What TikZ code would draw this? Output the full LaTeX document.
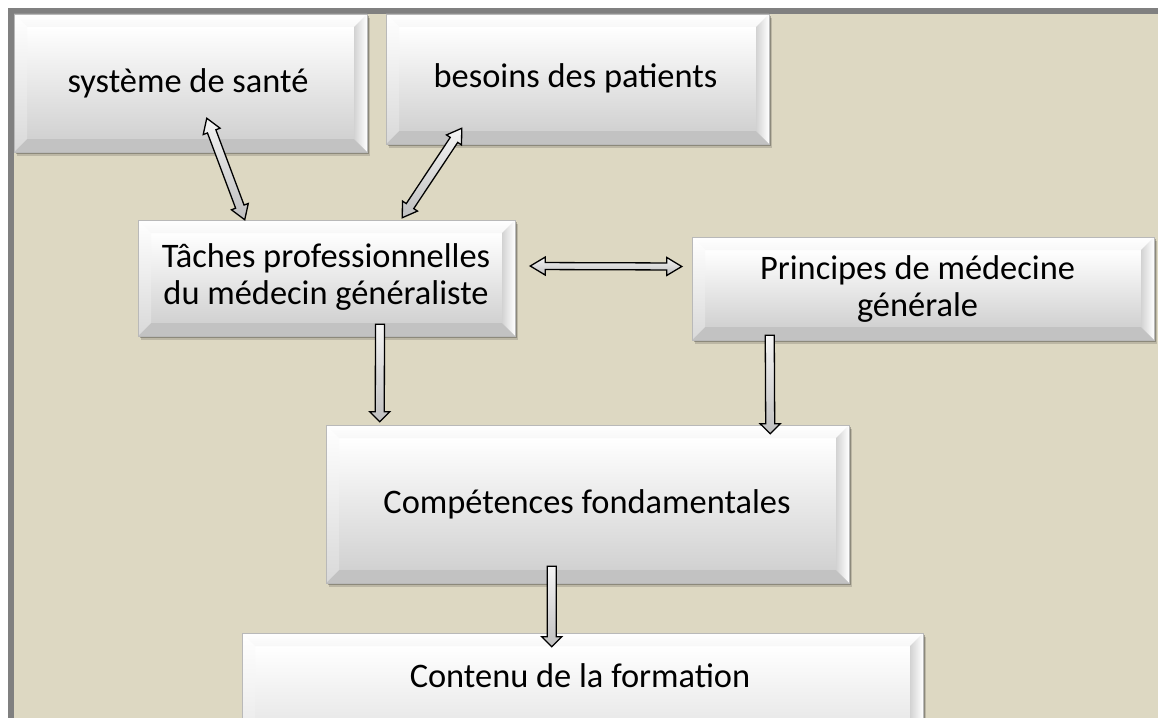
\documentclass[tikz,border=0pt]{standalone}
\usepackage{fontspec}
\setmainfont{Carlito}
\usetikzlibrary{calc,shadows}
\definecolor{bgbeige}{HTML}{DDD8C2}
\definecolor{framegray}{HTML}{808080}

\newcommand\singlearrow[5]{%
  \coordinate (#2hb) at ($(#2)!#5!(#1)$);
  \path[blockarrow] ($(#1)!#3!90:(#2)$) -- ($(#2hb)!#3!90:(#2)$) -- ($(#2hb)!#4!90:(#2)$) -- (#2)
     -- ($(#2hb)!#4!-90:(#2)$) -- ($(#2hb)!#3!-90:(#2)$) -- ($(#1)!#3!-90:(#2)$) -- cycle;}
\newcommand\twowayarrow[5]{%
  \coordinate (#1hb) at ($(#1)!#5!(#2)$);
  \coordinate (#2hb) at ($(#2)!#5!(#1)$);
  \path[blockarrow] (#1) -- ($(#1hb)!#4!90:(#2)$) -- ($(#1hb)!#3!90:(#2)$) -- ($(#2hb)!#3!90:(#2)$)
     -- ($(#2hb)!#4!90:(#2)$) -- (#2) -- ($(#2hb)!#4!-90:(#2)$) -- ($(#2hb)!#3!-90:(#2)$)
     -- ($(#1hb)!#3!-90:(#2)$) -- ($(#1hb)!#4!-90:(#2)$) -- cycle;}

\begin{document}
\begin{tikzpicture}[x=1pt,y=-1pt,
  bevelbox/.style={rectangle, inner sep=0pt, fill=white, draw=gray!55, line width=0.5pt,
    drop shadow={shadow xshift=3pt, shadow yshift=-4pt, opacity=0.15, fill=black},
    drop shadow={shadow xshift=1.5pt, shadow yshift=-2pt, opacity=0.25, fill=black},
    path picture={
      \path (path picture bounding box.south west) coordinate (pbsw)
            (path picture bounding box.north east) coordinate (pbne)
            (path picture bounding box.north west) coordinate (pbnw)
            (path picture bounding box.south east) coordinate (pbse);
      \shade[top color=white, bottom color=gray!36] ($(pbsw)+(13pt,13pt)$) rectangle ($(pbne)+(-13pt,-13pt)$);
      \shade[top color=white, bottom color=gray!6] (pbnw) -- (pbne) -- ($(pbne)+(-13pt,-13pt)$) -- ($(pbnw)+(13pt,-13pt)$) -- cycle;
      \shade[top color=white, bottom color=gray!30] (pbnw) -- ($(pbnw)+(13pt,-13pt)$) -- ($(pbsw)+(13pt,13pt)$) -- (pbsw) -- cycle;
      \shade[left color=gray!35, right color=white] (pbne) -- (pbse) -- ($(pbse)+(-13pt,13pt)$) -- ($(pbne)+(-13pt,-13pt)$) -- cycle;
      \fill[gray!48] (pbsw) -- (pbse) -- ($(pbse)+(-13pt,13pt)$) -- ($(pbsw)+(13pt,13pt)$) -- cycle;
    }},
  boxtext/.style={font=\fontsize{34.4}{37.5}\selectfont, align=center, inner sep=0pt, text=black},
  blockarrow/.style={draw=black, line width=1.3pt, line join=miter, top color=gray!8, bottom color=gray!50}]
\useasboundingbox (0,0) rectangle (1158,717);
\clip (0,0) rectangle (1158,717);
\fill[white] (-5,-5) rectangle (1170,730);
\fill[framegray] (8,8) rectangle (1170,730);
\fill[bgbeige] (14,14) rectangle (1170,730);

% boxes
\node[bevelbox, minimum width=353pt, minimum height=138pt] (sys) at (190.5,83) {};
\node[bevelbox, minimum width=383pt, minimum height=130pt] (bes) at (577.5,79) {};
\node[bevelbox, minimum width=377pt, minimum height=116pt] (tac) at (326.5,278) {};
\node[bevelbox, minimum width=462pt, minimum height=103pt] (pri) at (923,288.5) {};
\node[bevelbox, minimum width=523pt, minimum height=158pt] (com) at (587.5,504) {};
\node[bevelbox, minimum width=681pt, minimum height=180pt] (con) at (582.5,723) {};

% texts
\node[boxtext, anchor=base] (systxt) at (188,92) {système de santé};
\node[boxtext, anchor=base] (bestxt) at (575.5,87) {besoins des patients};
\node[boxtext] (tactxt) at (326,277) {Tâches professionnelles\\du médecin généraliste};
\node[boxtext] (pritxt) at (917.5,289) {Principes de médecine\\générale};
\node[boxtext, anchor=base] (comtxt) at (587,513) {Compétences fondamentales};
\node[boxtext, anchor=base] (contxt) at (580,687) {Contenu de la formation};

% connector end points
\coordinate (a1s) at ($(sys.south west)+(193,-34)$);
\coordinate (a1e) at ($(tac.north west)+(107,0)$);
\coordinate (a2s) at ($(bes.south west)+(76,-16)$);
\coordinate (a2e) at ($(tac.north east)+(-113,-2)$);
\coordinate (a3s) at ($(tac.east)+(15,-12)$);
\coordinate (a3e) at ($(pri.west)+(-10,-22)$);
\coordinate (a4s) at ($(tac.south)+(53.5,-12)$);
\coordinate (a4e) at ($(com.north west)+(54,-3)$);
\coordinate (a5s) at ($(pri.south west)+(78,-5)$);
\coordinate (a5e) at ($(com.north east)+(-79,9)$);
\coordinate (a6s) at ($(com.south west)+(226,-17)$);
\coordinate (a6e) at ($(con.north west)+(310,14)$);

% connectors
\twowayarrow{a1s}{a1e}{4.5pt}{9pt}{14pt}
\twowayarrow{a2s}{a2e}{4.5pt}{9pt}{14pt}
\twowayarrow{a3s}{a3e}{3.5pt}{9pt}{15pt}
\singlearrow{a4s}{a4e}{4.5pt}{10pt}{10pt}
\singlearrow{a5s}{a5e}{4.5pt}{10pt}{10pt}
\singlearrow{a6s}{a6e}{4.5pt}{10pt}{10pt}
\end{tikzpicture}
\end{document}
